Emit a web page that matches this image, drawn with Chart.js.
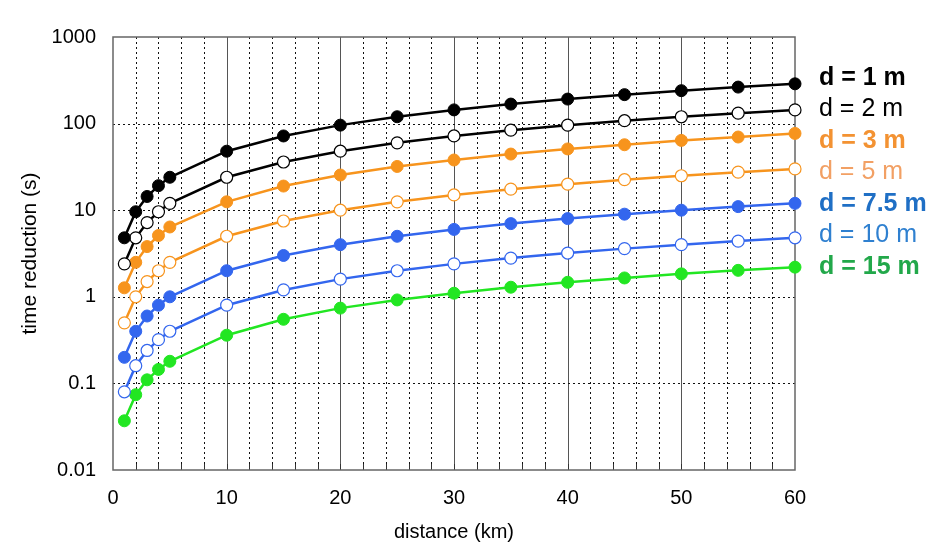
<!DOCTYPE html>
<html lang="en">
<head>
  <meta charset="UTF-8" />
  <title>time reduction vs distance</title>
  <script src="https://cdn.jsdelivr.net/npm/chart.js"></script>
  <style>
    html, body { margin: 0; padding: 0; background: #fff; }
    #wrap { width: 945px; height: 552px; }
  </style>
</head>
<body>
  <div id="wrap"><canvas id="chart" width="945" height="552"></canvas></div>

  <script>
    // distance (km) where each series was computed
    const distances = [1, 2, 3, 4, 5, 10, 15, 20, 25, 30, 35, 40, 45, 50, 55, 60];

    // time reduction (s)
    const d1   = [4.8, 9.6, 14.4, 19.2, 24, 48, 72, 96, 120, 144, 168, 192, 216, 240, 264, 288];
    const d2   = [2.4, 4.8, 7.2, 9.6, 12, 24, 36, 48, 60, 72, 84, 96, 108, 120, 132, 144];
    const d3   = [1.27, 2.5, 3.8, 5.1, 6.4, 12.5, 19, 25.5, 32, 38, 44.5, 51, 57, 64, 70, 77];
    const d5   = [0.5, 1.0, 1.5, 2.0, 2.5, 5.0, 7.5, 10, 12.5, 15, 17.5, 20, 22.5, 25, 27.5, 30];
    const d75  = [0.2, 0.4, 0.6, 0.8, 1.0, 2.0, 3.0, 4.0, 5.0, 6.0, 7.0, 8.0, 9.0, 10, 11, 12];
    const d10  = [0.08, 0.16, 0.24, 0.32, 0.4, 0.8, 1.2, 1.6, 2.0, 2.4, 2.8, 3.2, 3.6, 4.0, 4.4, 4.8];
    const d15  = [0.037, 0.074, 0.11, 0.145, 0.18, 0.36, 0.55, 0.74, 0.92, 1.1, 1.29, 1.47, 1.65, 1.84, 2.02, 2.2];

    const seriesLabels = ['d = 1 m', 'd = 2 m', 'd = 3 m', 'd = 5 m', 'd = 7.5 m', 'd = 10 m', 'd = 15 m'];
    const seriesValues = [d1, d2, d3, d5, d75, d10, d15];

    const yTickValues = [0.01, 0.1, 1, 10, 100, 1000];
    const xMinorStep = 2;
    const xMajorStep = 10;

    // styling
    const lineColors  = ['#000000', '#000000', '#f7941d', '#f7941d', '#3366ee', '#3366ee', '#22e622'];
    const hollow      = [false, true, false, true, false, true, false];
    const legendColors = ['#000000', '#000000', '#f39232', '#f2a064', '#1f6fc5', '#2f80d0', '#22a84a'];
    const legendBold   = [true, false, true, false, true, false, true];
    const FONT = '"Liberation Sans", Arial, sans-serif';

    const datasets = seriesValues.map((vals, i) => ({
      label: seriesLabels[i],
      data: distances.map((x, j) => ({ x: x, y: vals[j] })),
      borderColor: lineColors[i],
      borderWidth: 2.5,
      backgroundColor: lineColors[i],
      pointBackgroundColor: hollow[i] ? '#ffffff' : lineColors[i],
      pointBorderColor: lineColors[i],
      pointBorderWidth: hollow[i] ? 1.2 : 1,
      pointRadius: 6,
      tension: 0,
      clip: false
    }));

    // grid: dotted minor verticals, solid majors, dotted decades, frame
    const gridPlugin = {
      id: 'customGrid',
      beforeDatasetsDraw(chart) {
        const { ctx, chartArea: a, scales: { x, y } } = chart;
        ctx.save();
        ctx.lineWidth = 1;
        for (let v = x.min + xMinorStep; v < x.max; v += xMinorStep) {
          const px = Math.round(x.getPixelForValue(v)) + 0.5;
          if (v % xMajorStep === 0) {
            ctx.setLineDash([]);
            ctx.strokeStyle = '#555';
          } else {
            ctx.setLineDash([2, 3]);
            ctx.strokeStyle = '#111';
          }
          ctx.beginPath();
          ctx.moveTo(px, a.top);
          ctx.lineTo(px, a.bottom);
          ctx.stroke();
          // small solid tick at the bottom
          ctx.setLineDash([]);
          ctx.strokeStyle = '#333';
          ctx.beginPath();
          ctx.moveTo(px, a.bottom - 6);
          ctx.lineTo(px, a.bottom);
          ctx.stroke();
        }
        ctx.setLineDash([2, 3]);
        ctx.strokeStyle = '#111';
        yTickValues.slice(1, -1).forEach(v => {
          const py = Math.round(y.getPixelForValue(v)) + 0.5;
          ctx.beginPath();
          ctx.moveTo(a.left, py);
          ctx.lineTo(a.right, py);
          ctx.stroke();
        });
        ctx.setLineDash([]);
        ctx.strokeStyle = '#666';
        ctx.lineWidth = 1.5;
        ctx.strokeRect(a.left, a.top, a.right - a.left, a.bottom - a.top);
        ctx.restore();
      }
    };

    // coloured legend text to the right of the plot
    const legendPlugin = {
      id: 'sideLegend',
      afterDraw(chart) {
        const { ctx, chartArea: a } = chart;
        ctx.save();
        ctx.textBaseline = 'middle';
        ctx.textAlign = 'left';
        seriesLabels.forEach((txt, i) => {
          ctx.font = (legendBold[i] ? 'bold ' : '') + '25px ' + FONT;
          ctx.fillStyle = legendColors[i];
          ctx.fillText(txt, a.right + 24, 78 + i * 31.5);
        });
        ctx.restore();
      }
    };

    const ctx = document.getElementById('chart').getContext('2d');
    new Chart(ctx, {
      type: 'line',
      data: { datasets: datasets },
      plugins: [gridPlugin, legendPlugin],
      options: {
        responsive: false,
        animation: false,
        layout: { padding: { top: 37, right: 150, left: 0, bottom: 0 } },
        plugins: {
          legend: { display: false },
          tooltip: { enabled: false }
        },
        scales: {
          x: {
            type: 'linear',
            min: 0,
            max: 60,
            grid: { display: false, drawTicks: false },
            border: { display: false },
            ticks: {
              stepSize: xMajorStep,
              padding: 16,
              color: '#000',
              font: { family: FONT, size: 20 },
              maxRotation: 0
            },
            title: {
              display: true,
              text: 'distance (km)',
              color: '#000',
              font: { family: FONT, size: 20 },
              padding: { top: 0, bottom: 8 }
            },
            afterFit(scale) { scale.height = 82; }
          },
          y: {
            type: 'logarithmic',
            min: 0.01,
            max: 1000,
            grid: { display: false, drawTicks: false },
            border: { display: false },
            afterBuildTicks(scale) {
              scale.ticks = yTickValues.map(v => ({ value: v }));
            },
            ticks: {
              padding: 17,
              color: '#000',
              font: { family: FONT, size: 20 },
              callback: v => String(v)
            },
            title: {
              display: true,
              text: 'time reduction (s)',
              color: '#000',
              font: { family: FONT, size: 21 },
              padding: { top: 18, bottom: 0 }
            },
            afterFit(scale) { scale.width = 113; }
          }
        }
      }
    });
  </script>
</body>
</html>
